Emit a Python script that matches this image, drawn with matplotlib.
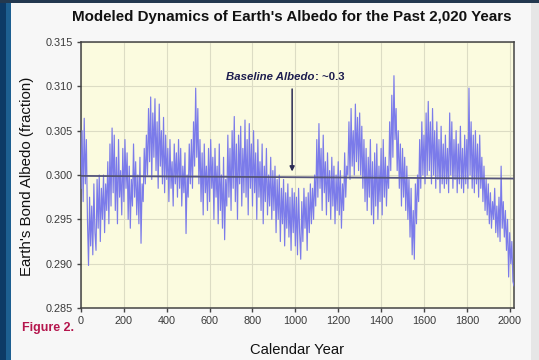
import numpy as np
import matplotlib
matplotlib.use("Agg")
import matplotlib.pyplot as plt
from matplotlib.patches import Rectangle

plt.rcParams['font.family'] = ['Liberation Sans', 'DejaVu Sans']

years = np.arange(0, 2021, 5)
albedo = [
    # 0-95
    0.2985, 0.3050, 0.2970, 0.3064, 0.2990, 0.3040, 0.2950, 0.2898, 0.2975, 0.2920,
    0.2965, 0.2910, 0.2990, 0.2935, 0.2915, 0.2995, 0.2940, 0.3000, 0.2925, 0.2985,
    # 100-195
    0.2950, 0.3000, 0.2935, 0.2990, 0.2960, 0.3015, 0.2945, 0.3035, 0.2965, 0.3053,
    0.2980, 0.3045, 0.2960, 0.3020, 0.2945, 0.3040, 0.2975, 0.3005, 0.2955, 0.3030,
    # 200-295
    0.2970, 0.3040, 0.2985, 0.3025, 0.2950, 0.3010, 0.2940, 0.2995, 0.2965, 0.3035,
    0.2975, 0.3015, 0.2955, 0.3000, 0.2945, 0.3020, 0.2923, 0.2990, 0.2970, 0.3030,
    # 300-395
    0.2990, 0.3045, 0.3000, 0.3075, 0.3015, 0.3088, 0.2995, 0.3070, 0.3020, 0.3086,
    0.3005, 0.3060, 0.2985, 0.3080, 0.3010, 0.3050, 0.2990, 0.3065, 0.2980, 0.3045,
    # 400-495
    0.2995, 0.3030, 0.2970, 0.3040, 0.2985, 0.3015, 0.2965, 0.3035, 0.2990, 0.3025,
    0.2975, 0.3040, 0.2985, 0.3030, 0.2965, 0.3010, 0.2980, 0.3025, 0.2934, 0.3000,
    # 500-595
    0.2975, 0.3035, 0.2990, 0.3040, 0.2985, 0.3060, 0.3010, 0.3098, 0.3020, 0.3075,
    0.2990, 0.3040, 0.2970, 0.3025, 0.2955, 0.3035, 0.2980, 0.3010, 0.2960, 0.3030,
    # 600-695
    0.2970, 0.3040, 0.2985, 0.3020, 0.2950, 0.3030, 0.2975, 0.3010, 0.2945, 0.3035,
    0.2960, 0.3000, 0.2940, 0.3020, 0.2927, 0.2995, 0.2965, 0.3045, 0.2975, 0.3030,
    # 700-795
    0.2960, 0.3050, 0.2985, 0.3066, 0.2970, 0.3035, 0.2950, 0.3045, 0.2990, 0.3055,
    0.2965, 0.3030, 0.2980, 0.3062, 0.2975, 0.3040, 0.2955, 0.3058, 0.2985, 0.3035,
    # 800-895
    0.2965, 0.3050, 0.2980, 0.3025, 0.2950, 0.3040, 0.2975, 0.3015, 0.2960, 0.3035,
    0.2945, 0.3010, 0.2970, 0.3030, 0.2955, 0.3000, 0.2965, 0.3020, 0.2950, 0.3005,
    # 900-995
    0.2960, 0.3010, 0.2935, 0.2995, 0.2950, 0.3000, 0.2925, 0.2985, 0.2945, 0.2995,
    0.2920, 0.2980, 0.2940, 0.2990, 0.2930, 0.2975, 0.2915, 0.2985, 0.2935, 0.2980,
    # 1000-1095
    0.2920, 0.2975, 0.2910, 0.2985, 0.2935, 0.2905, 0.2970, 0.2925, 0.2985, 0.2940,
    0.2975, 0.2915, 0.2980, 0.2935, 0.2990, 0.2945, 0.2985, 0.2950, 0.3000, 0.2965,
    # 1100-1195
    0.3040, 0.2975, 0.3058, 0.2985, 0.3030, 0.2960, 0.3045, 0.2980, 0.3015, 0.2955,
    0.3025, 0.2970, 0.3005, 0.2950, 0.3020, 0.2965, 0.3010, 0.2945, 0.3000, 0.2960,
    # 1200-1295
    0.3015, 0.2955, 0.3005, 0.2940, 0.2990, 0.2960, 0.3025, 0.2975, 0.3010, 0.3000,
    0.3060, 0.2995, 0.3075, 0.3010, 0.3050, 0.3000, 0.3080, 0.3015, 0.3065, 0.3005,
    # 1300-1395
    0.3070, 0.3000, 0.3055, 0.2985, 0.3040, 0.2970, 0.3030, 0.2960, 0.3020, 0.2975,
    0.3040, 0.2955, 0.3015, 0.2945, 0.3025, 0.2965, 0.3035, 0.2950, 0.3010, 0.2970,
    # 1400-1495
    0.3030, 0.2955, 0.3040, 0.2975, 0.3020, 0.2965, 0.3010, 0.2985, 0.3060, 0.3005,
    0.3090, 0.3020, 0.3112, 0.3040, 0.3075, 0.3005, 0.3050, 0.2985, 0.3035, 0.2965,
    # 1500-1595
    0.3030, 0.2975, 0.3020, 0.2960, 0.3010, 0.2950, 0.2995, 0.2930, 0.2985, 0.2910,
    0.2960, 0.2905, 0.2990, 0.2945, 0.3000, 0.2970, 0.3040, 0.2985, 0.3060, 0.3000,
    # 1600-1695
    0.3045, 0.2990, 0.3070, 0.3000, 0.3083, 0.3005, 0.3060, 0.2990, 0.3075, 0.3000,
    0.3050, 0.2985, 0.3060, 0.2995, 0.3040, 0.2980, 0.3055, 0.2990, 0.3035, 0.2985,
    # 1700-1795
    0.3045, 0.2990, 0.3030, 0.2980, 0.3070, 0.3000, 0.3060, 0.2985, 0.3040, 0.2995,
    0.3050, 0.2980, 0.3035, 0.2990, 0.3055, 0.2985, 0.3030, 0.2980, 0.3045, 0.2990,
    # 1800-1895
    0.3040, 0.2985, 0.3098, 0.3000, 0.3060, 0.2985, 0.3045, 0.2980, 0.3050, 0.2990,
    0.3035, 0.2975, 0.3045, 0.2985, 0.3020, 0.2970, 0.3010, 0.2960, 0.2995, 0.2955,
    # 1900-1995
    0.2990, 0.2945, 0.2980, 0.2940, 0.2970, 0.2950, 0.2985, 0.2935, 0.2965, 0.2930,
    0.2975, 0.2925, 0.3010, 0.2940, 0.2970, 0.2930, 0.2960, 0.2915, 0.2950, 0.2885,
    # 2000-2020
    0.2935, 0.2900, 0.2925, 0.2880, 0.2875,
]
baseline_years = [0, 2020]
baseline_values = [0.2999, 0.2996]

x_ticks = [0, 200, 400, 600, 800, 1000, 1200, 1400, 1600, 1800, 2000]
y_ticks = [0.285, 0.290, 0.295, 0.300, 0.305, 0.310, 0.315]

title = "Modeled Dynamics of Earth's Albedo for the Past 2,020 Years"
xlabel = "Calendar Year"
ylabel = "Earth's Bond Albedo (fraction)"
annot_year = 985
annot_split_year = 1090
annot_text_value = 0.3110
annot_arrow_start = 0.3097
annot_arrow_end = 0.3004

fig = plt.figure(figsize=(5.39, 3.6), dpi=100)
fig.patch.set_facecolor('#f7f7f7')

# decorative slide frame
fig.add_artist(Rectangle((0, 0), 0.012, 1, transform=fig.transFigure,
                         facecolor='#0d3a66', edgecolor='none', zorder=0))
fig.add_artist(Rectangle((0.012, 0), 0.009, 1, transform=fig.transFigure,
                         facecolor='#1d5f91', edgecolor='none', zorder=0))
fig.add_artist(Rectangle((0, 0.993), 1, 0.007, transform=fig.transFigure,
                         facecolor='#23384f', edgecolor='none', zorder=0))
fig.add_artist(Rectangle((0.985, 0), 0.015, 0.993, transform=fig.transFigure,
                         facecolor='#e6e6e6', edgecolor='none', zorder=0))

ax = fig.add_axes([0.1503, 0.1444, 0.8033, 0.7389])
ax.set_facecolor('#fbfbdf')

ax.plot(years, albedo, color='#7b7bea', lw=0.85, zorder=3)
ax.plot(baseline_years, baseline_values, color='#55557a', lw=1.3, zorder=4)

ax.set_xlim(0, 2020)
ax.set_ylim(0.285, 0.315)
ax.set_xticks(x_ticks)
ax.set_yticks(y_ticks)
ax.set_yticklabels([f"{v:.3f}" for v in y_ticks])
ax.grid(True, color='#dcdcc4', lw=0.8, zorder=0)
ax.set_axisbelow(True)
ax.tick_params(axis='both', direction='out', length=3, width=1,
               colors='#444444', labelsize=7.8, labelcolor='#3a3a3a')
ax.tick_params(axis='x', pad=2.5)
ax.tick_params(axis='y', pad=3)
for s in ax.spines.values():
    s.set_color('#444444')
    s.set_linewidth(1.1)

ax.annotate("", xy=(annot_year, annot_arrow_end), xytext=(annot_year, annot_arrow_start),
            arrowprops=dict(arrowstyle='-|>', color='#2b2b55', lw=1.1,
                            mutation_scale=7, shrinkA=0, shrinkB=0), zorder=5)
ax.text(annot_split_year, annot_text_value, "Baseline Albedo", color='#1e1e50',
        fontsize=8.2, fontweight='bold', fontstyle='italic', ha='right', va='center', zorder=6)
ax.text(annot_split_year, annot_text_value, ": ~0.3", color='#1e1e50',
        fontsize=8.2, fontweight='bold', ha='left', va='center', zorder=6)

fig.text(0.542, 0.952, title, fontsize=10.9, fontweight='bold', color='#111111',
         ha='center', va='center')
fig.text(0.551, 0.027, xlabel, fontsize=10.6, color='#111111', ha='center', va='center')
fig.text(0.050, 0.51, ylabel, fontsize=10.8, color='#111111', ha='center', va='center',
         rotation=90)
fig.text(0.040, 0.090, "Figure 2.", fontsize=9.0, fontweight='bold', color='#b5164d',
         ha='left', va='center')

fig.savefig("out.png", dpi=100, facecolor=fig.get_facecolor())
